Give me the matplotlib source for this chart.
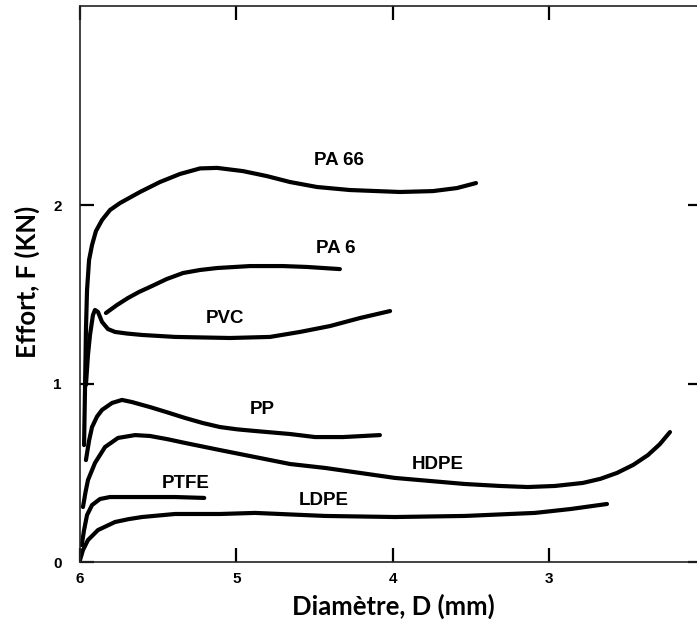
import matplotlib.pyplot as plt

# effort vs diameter, one curve per polymer (D in mm, F in kN)
pa66_d = [5.974, 5.968, 5.962, 5.955, 5.942, 5.923, 5.898, 5.859, 5.808, 5.744, 5.616,
          5.488, 5.360, 5.232, 5.123, 4.957, 4.804, 4.657, 4.484, 4.273, 3.953, 3.742,
          3.588, 3.466]
pa66_f = [0.655, 0.964, 1.300, 1.524, 1.692, 1.776, 1.854, 1.916, 1.972, 2.011, 2.073,
          2.129, 2.174, 2.205, 2.208, 2.190, 2.162, 2.129, 2.101, 2.084, 2.073, 2.078,
          2.095, 2.123]

pa6_d = [5.834, 5.763, 5.693, 5.622, 5.552, 5.446, 5.341, 5.232, 5.123, 4.912, 4.701,
         4.548, 4.337]
pa6_f = [1.395, 1.440, 1.479, 1.513, 1.541, 1.585, 1.619, 1.636, 1.647, 1.658, 1.658,
         1.653, 1.641]

pvc_d = [5.962, 5.949, 5.936, 5.917, 5.904, 5.885, 5.859, 5.821, 5.776, 5.700, 5.603,
         5.392, 5.040, 4.784, 4.592, 4.400, 4.208, 4.016]
pvc_f = [0.992, 1.160, 1.272, 1.384, 1.412, 1.401, 1.345, 1.305, 1.289, 1.280, 1.272,
         1.261, 1.255, 1.261, 1.289, 1.322, 1.367, 1.406]

pp_d = [5.962, 5.942, 5.923, 5.891, 5.859, 5.795, 5.731, 5.667, 5.610, 5.552, 5.440,
        5.328, 5.216, 5.104, 4.992, 4.880, 4.656, 4.496, 4.317, 4.081]
pp_f = [0.571, 0.680, 0.756, 0.815, 0.852, 0.891, 0.908, 0.896, 0.882, 0.868, 0.838,
        0.807, 0.779, 0.756, 0.743, 0.734, 0.717, 0.700, 0.700, 0.711]

hdpe_d = [5.981, 5.965, 5.949, 5.904, 5.840, 5.757, 5.648, 5.552, 5.440, 5.328, 5.104,
          4.880, 4.656, 4.432, 4.208, 3.985, 3.761, 3.537, 3.313, 3.134, 2.961, 2.782,
          2.670, 2.564, 2.460, 2.366, 2.290, 2.225]
hdpe_f = [0.308, 0.390, 0.459, 0.555, 0.644, 0.695, 0.711, 0.706, 0.688, 0.667, 0.627,
          0.588, 0.549, 0.527, 0.499, 0.471, 0.454, 0.437, 0.426, 0.420, 0.426, 0.443,
          0.466, 0.499, 0.544, 0.599, 0.660, 0.728]

ptfe_d = [5.989, 5.974, 5.955, 5.923, 5.872, 5.808, 5.615, 5.391, 5.205]
ptfe_f = [0.095, 0.179, 0.263, 0.319, 0.353, 0.364, 0.364, 0.364, 0.359]

ldpe_d = [6.0, 5.981, 5.949, 5.885, 5.776, 5.690, 5.603, 5.392, 5.104, 4.880, 4.432,
          3.985, 3.537, 3.089, 2.859, 2.628]
ldpe_f = [0.011, 0.067, 0.123, 0.179, 0.224, 0.240, 0.252, 0.269, 0.269, 0.275, 0.258,
          0.252, 0.258, 0.275, 0.297, 0.325]

curves = [(pa66_d, pa66_f), (pa6_d, pa6_f), (pvc_d, pvc_f), (pp_d, pp_f),
          (hdpe_d, hdpe_f), (ptfe_d, ptfe_f), (ldpe_d, ldpe_f)]

names = ["PA 66", "PA 6", "PVC", "PP", "HDPE", "PTFE", "LDPE"]
name_d = [4.340, 4.362, 5.072, 4.836, 3.713, 5.322, 4.439]
name_f = [2.252, 1.756, 1.364, 0.852, 0.549, 0.437, 0.342]

xticks = [6, 5, 4, 3]
yticks = [0, 1, 2]

fig = plt.figure(figsize=(6.97, 6.26), dpi=100)
ax = fig.add_axes([80 / 697, 64 / 626, 622 / 697, 556 / 626])

for d, f in curves:
    ax.plot(d, f, color="black", lw=3.0, solid_capstyle="round", solid_joinstyle="round")

for n, d, f in zip(names, name_d, name_f):
    ax.text(d, f, n, ha="center", va="center", fontsize=13.5, fontweight="bold",
            family="Liberation Sans")

ax.set_xlim(6, 2.02)
ax.set_ylim(0, 3.115)
ax.set_xticks(xticks)
ax.set_yticks(yticks)
ax.set_xticklabels([str(t) for t in xticks], fontsize=11, fontweight="bold",
                   family="Liberation Sans")
ax.set_yticklabels([str(t) for t in yticks], fontsize=11, fontweight="bold",
                   family="Liberation Sans")
ax.tick_params(direction="in", top=True, right=True, length=10, width=1.6)
ax.tick_params(axis="x", pad=7)
ax.tick_params(axis="y", pad=13)
for s in ax.spines.values():
    s.set_linewidth(1.2)
    s.set_color("#222222")

# axis titles
fig.text(27 / 697, 1 - 282 / 626, "Effort, F (KN)", rotation=90, ha="center", va="center",
         fontsize=18.5, fontweight="bold", family="Lato")
fig.text(393 / 697, 1 - 606 / 626, "Diamètre, D (mm)", ha="center", va="center",
         fontsize=18.5, fontweight="bold", family="Lato")

fig.savefig("out.png", dpi=100, facecolor="white")
